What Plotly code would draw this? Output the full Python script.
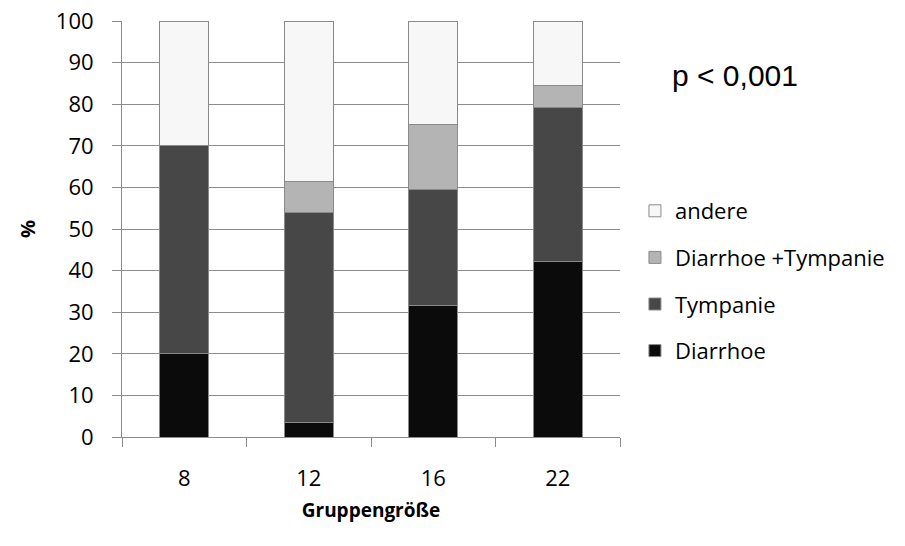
import plotly.graph_objects as go

categories = ["8", "12", "16", "22"]
diarrhoe = [20.0, 3.5, 31.6, 42.2]
tympanie = [50.0, 50.4, 28.0, 36.9]
diarrhoe_tympanie = [0.0, 7.5, 15.6, 5.4]
andere = [30.0, 38.6, 24.8, 15.5]

series_names = ["Diarrhoe", "Tympanie", "Diarrhoe +Tympanie", "andere"]
series_values = [diarrhoe, tympanie, diarrhoe_tympanie, andere]
series_colors = ["#0b0b0b", "#474747", "#b4b4b4", "#f7f7f7"]
legend_ranks = [4, 3, 2, 1]

FONT = "Open Sans"

fig = go.Figure()
for name, vals, col, rank in zip(series_names, series_values, series_colors, legend_ranks):
    fig.add_trace(go.Bar(
        x=categories, y=vals, name=name, legendgroup=name, legendrank=rank,
        marker=dict(color=col, line=dict(color="#8a8a8a", width=1)),
    ))

fig.update_layout(
    barmode="stack",
    bargap=0.61,
    width=905, height=546,
    margin=dict(l=122, r=285, t=21, b=109, autoexpand=False),
    plot_bgcolor="white", paper_bgcolor="white",
    font=dict(family=FONT, size=22, color="#000000"),
    showlegend=True,
    legend=dict(
        x=1.03, xanchor="left", y=0.375, yanchor="middle",
        traceorder="grouped", tracegroupgap=15,
        itemwidth=30, font=dict(family=FONT, size=22),
        bgcolor="rgba(0,0,0,0)",
    ),
    xaxis=dict(
        type="category", showgrid=False, automargin=False,
        showline=True, linecolor="#8c8c8c", linewidth=1,
        ticks="outside", ticklen=9, tickcolor="#8c8c8c", tickson="boundaries",
        ticklabelstandoff=22,
        title=dict(text="<b>Gruppengröße</b>", font=dict(family=FONT, size=19), standoff=12),
    ),
    yaxis=dict(
        range=[0, 100], dtick=10, automargin=False,
        showgrid=True, gridcolor="#8c8c8c", gridwidth=1,
        showline=True, linecolor="#8c8c8c", linewidth=1,
        ticks="outside", ticklen=9, tickcolor="#8c8c8c",
        ticklabelstandoff=14,
        zeroline=False,
        title=dict(text="<b>%</b>", font=dict(family=FONT, size=20), standoff=14),
    ),
    annotations=[dict(
        text="p < 0,001", xref="paper", yref="paper",
        x=1.231, y=0.87, xanchor="center", yanchor="middle",
        showarrow=False, font=dict(family="Liberation Sans", size=30, color="#000"),
    )],
)

fig.write_html("out.html", config={"displayModeBar": False},
               post_script="document.body.style.margin='0';")
